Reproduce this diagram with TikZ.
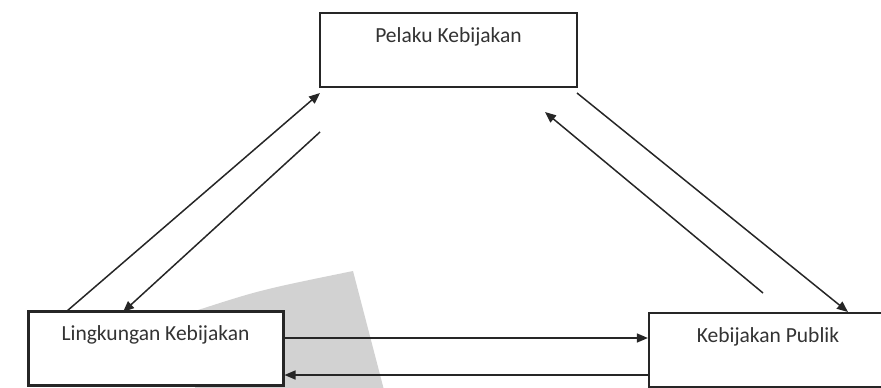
\documentclass[tikz,border=0pt]{standalone}
\usepackage{fontspec}
\setmainfont{Carlito}
\usetikzlibrary{arrows.meta}
\begin{document}
\begin{tikzpicture}[x=1pt,y=-1pt,
  box/.style={draw=black!85,fill=white,rectangle,inner sep=0pt},
  lbl/.style={font=\fontsize{21.5}{24}\selectfont,text=black!80,inner sep=0pt},
  conn/.style={draw=black!85,line width=1.5pt,-{Triangle[length=11pt,width=9pt]}}]
\useasboundingbox (0,0) rectangle (881,388);
\clip (0,0) rectangle (881,388);
\fill[gray!35] (195,311) .. controls (260,290) .. (353,271) -- (384,390) -- (195,390) -- cycle;
\node[box,line width=2.2pt,minimum width=257pt,minimum height=74pt] (top) at (448.5,50) {};
\node[lbl] (toplbl) at (448.5,37) {Pelaku Kebijakan};
\node[box,line width=3pt,minimum width=255pt,minimum height=74pt] (left) at (155.5,348) {};
\node[lbl] (leftlbl) at (155.5,335) {Lingkungan Kebijakan};
\node[box,line width=2.2pt,minimum width=240pt,minimum height=74pt] (right) at (769,350) {};
\node[lbl] (rightlbl) at (768,337) {Kebijakan Publik};
\coordinate (a1) at (67,311);
\coordinate (a2) at (320,93);
\coordinate (b1) at (320,132);
\coordinate (b2) at (123,312);
\coordinate (c1) at (577,93);
\coordinate (c2) at (848,312);
\coordinate (d1) at (763,293);
\coordinate (d2) at (545,112);
\draw[conn] (a1) -- (a2);
\draw[conn] (b1) -- (b2);
\draw[conn] (c1) -- (c2);
\draw[conn] (d1) -- (d2);
\draw[conn] (left.east |- 0,338) -- (right.west |- 0,338);
\draw[conn] (right.west |- 0,375) -- (left.east |- 0,375);
\end{tikzpicture}
\end{document}
